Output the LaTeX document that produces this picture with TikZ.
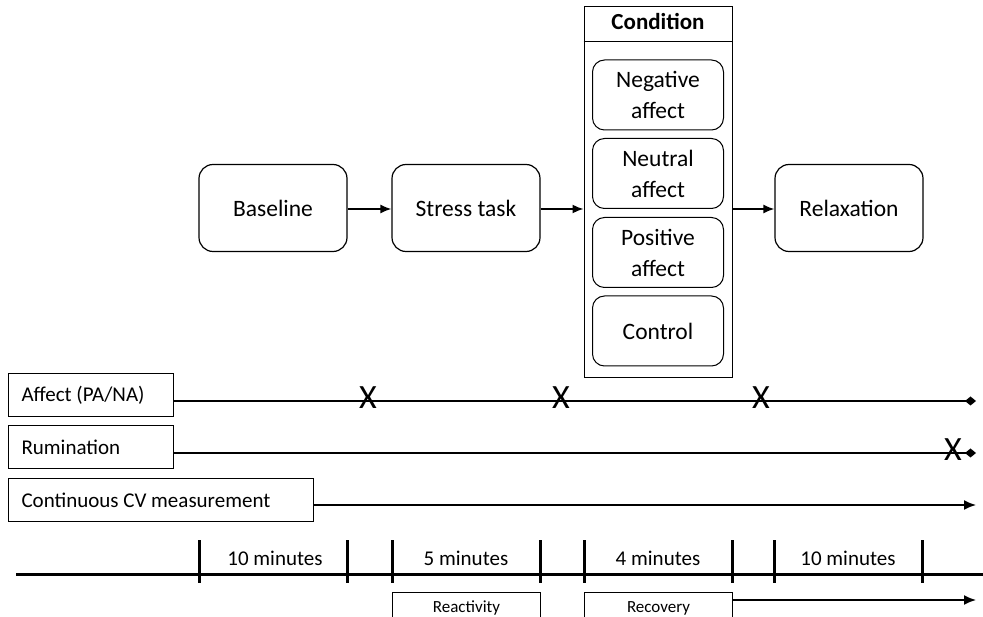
\documentclass[tikz,border=0pt]{standalone}
\usepackage{fontspec}
\setmainfont{Carlito}
\usetikzlibrary{arrows.meta}

\tikzset{
  stage/.style={draw, rounded corners=14pt, line width=1.2pt, minimum width=148pt, minimum height=87pt, inner sep=0pt},
  cond/.style={draw, rounded corners=12pt, line width=1pt, minimum width=131pt, minimum height=70pt, inner sep=0pt, align=center, font=\fontsize{23.5}{31}\selectfont},
  tag/.style={draw, line width=1pt, anchor=west, minimum height=43pt, inner xsep=13pt, inner ysep=0pt, align=flush left, font=\fontsize{21}{25}\selectfont},
  period/.style={draw, line width=1pt, minimum width=148pt, anchor=north west, inner sep=0pt, text height=20pt, text depth=20pt, font=\fontsize{17}{19}\selectfont},
  flow/.style={-{Latex[length=11pt,width=9pt]}, line width=1.6pt},
  track/.style={line width=1.6pt},
  tick/.style={line width=3pt},
  cross/.style={font=\fontsize{34}{34}\selectfont, inner sep=0pt}
}

\begin{document}
\begin{tikzpicture}[x=1pt, y=-1pt, font=\fontsize{23.5}{28}\selectfont]
        \useasboundingbox (0,0) rectangle (983,617);
        \clip (0,0) rectangle (983,617);

        % Draw stages
        \node[stage] (base) at (273,208) {Baseline};
        \node[stage] (stress) at (466,208) {Stress task};
        \node[draw, line width=1pt, minimum width=148pt, minimum height=371pt, inner sep=0pt] (cond) at (658,192.5) {};
        \node[stage] (relax) at (849,208) {Relaxation};

        % Draw condition column
        \draw[line width=1pt] (cond.west |- 0,42) coordinate (hl) -- (cond.east |- hl);
        \node[font=\bfseries\fontsize{23}{27}\selectfont] (condhead) at (658,22) {Condition};
        \node[cond] (neg) at (658,95) {Negative\\affect};
        \node[cond] (neu) at (658,173.5) {Neutral\\affect};
        \node[cond] (pos) at (658,252.5) {Positive\\affect};
        \node[cond] (ctrl) at (658,331) {Control};

        % Draw arrows
        \draw[flow] (base.east |- 0,209) -- (stress.west |- 0,209);
        \draw[flow] (stress.east |- 0,209) -- (cond.west |- 0,209);
        \draw[flow] (cond.east |- 0,209) -- (relax.west |- 0,209);

        % Draw measurements
        \node[tag, minimum width=165pt, text width=139pt] (affect) at (8,395.5) {Affect (PA/NA)};
        \node[tag, minimum width=165pt, text width=139pt] (rum) at (8,447.5) {Rumination};
        \node[tag, minimum width=305pt, text width=279pt] (cv) at (8,500) {Continuous CV measurement};

        \coordinate (affectend) at (976,401);
        \coordinate (rumend) at (976,453);
        \coordinate (cvend) at (976,505);
        \draw[track, -{Diamond[length=11pt,width=9pt]}] (affect.east |- affectend) -- (affectend);
        \draw[track, -{Diamond[length=11pt,width=9pt]}] (rum.east |- rumend) -- (rumend);
        \draw[track, -{Latex[length=12pt,width=10pt]}] (cv.east |- cvend) -- (cvend);

        \node[cross] (x1) at (368,398) {X};
        \node[cross] (x2) at (561,398) {X};
        \node[cross] (x3) at (761,398) {X};
        \node[cross] (x4) at (953,450) {X};

        % Draw timeline
        \coordinate (tstart) at (16,574);
        \coordinate (tend) at (983,574);
        \draw[tick] (tstart) -- (tend);
        \foreach \t in {199,347,392,540,584,732,774,922}
          \draw[tick] (\t,540) -- (\t,583);

        \node[font=\fontsize{21}{25}\selectfont] (m1) at (275,558) {10 minutes};
        \node[font=\fontsize{21}{25}\selectfont] (m2) at (466,558) {5 minutes};
        \node[font=\fontsize{21}{25}\selectfont] (m3) at (658,558) {4 minutes};
        \node[font=\fontsize{21}{25}\selectfont] (m4) at (848,558) {10 minutes};

        % Draw phases
        \node[period] (react) at (392,592) {Reactivity};
        \node[period] (recov) at (584,592) {Recovery};
        \coordinate (recovend) at (976,600);
        \draw[track, -{Latex[length=12pt,width=10pt]}] (recov.east |- recovend) -- (recovend);
    \end{tikzpicture}
\end{document}
